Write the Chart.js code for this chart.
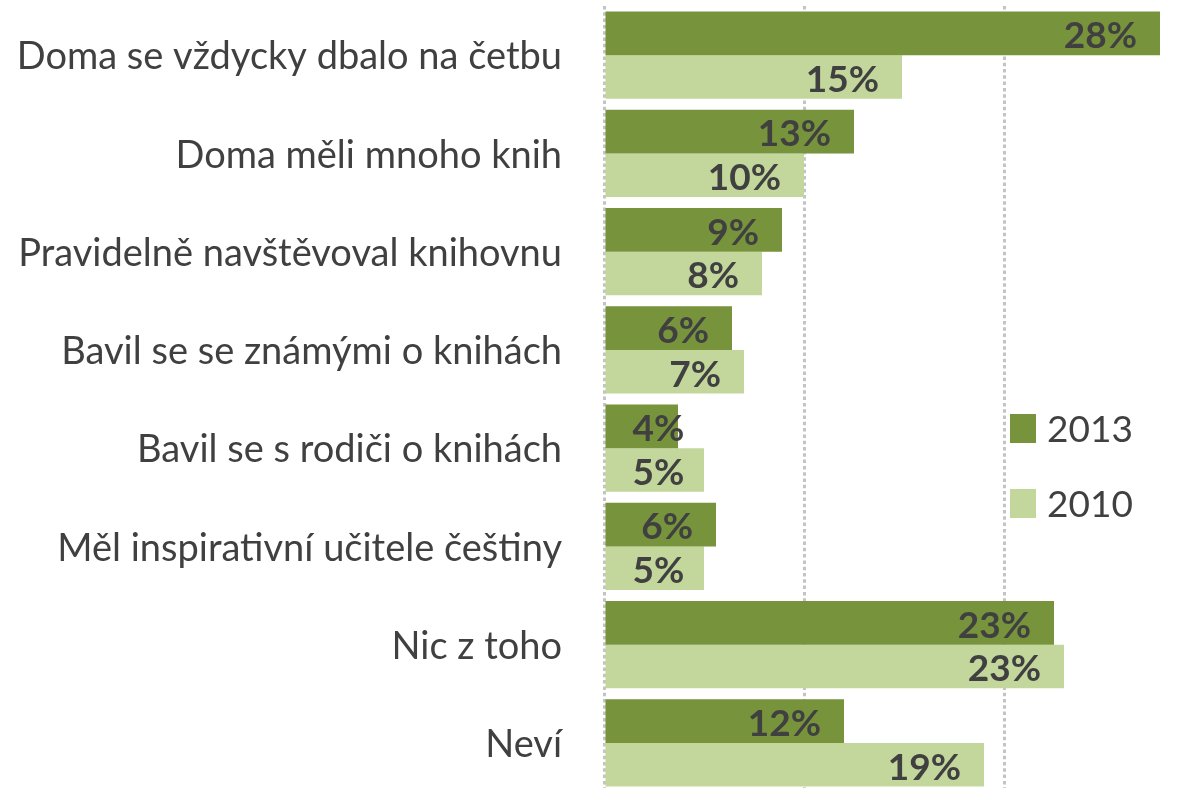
<!DOCTYPE html>
<html>
<head>
<meta charset="utf-8">
<script src="https://cdn.jsdelivr.net/npm/chart.js@4.4.1/dist/chart.umd.min.js"></script>
<style>
  html, body { margin: 0; padding: 0; background: #ffffff; overflow: hidden; width: 1192px; height: 788px; }
  #wrap { position: absolute; left: 0; top: 0; width: 1192px; height: 798px; }
</style>
</head>
<body>
<div id="wrap"><canvas id="c" width="1192" height="798"></canvas></div>
<script>
const categories = [
  "Doma se vždycky dbalo na četbu",
  "Doma měli mnoho knih",
  "Pravidelně navštěvoval knihovnu",
  "Bavil se se známými o knihách",
  "Bavil se s rodiči o knihách",
  "Měl inspirativní učitele češtiny",
  "Nic z toho",
  "Neví"
];
const seriesNames = ["2013", "2010"];
const values2013 = [27.8, 12.5, 8.9, 6.4, 3.7, 5.6, 22.5, 12.0];
const values2010 = [14.9, 10.0, 7.9, 7.0, 5.0, 5.0, 23.0, 19.0];
const gridTicks = [0, 10, 20];

const COL_2013 = "#77933C";
const COL_2010 = "#C3D69B";
const TEXT = "#404040";
const FONT = "Lato, 'Open Sans', sans-serif";

const labelPlugin = {
  id: "barLabels",
  afterDatasetsDraw(chart) {
    const ctx = chart.ctx;
    ctx.save();
    ctx.font = "bold 37px " + FONT;
    ctx.fillStyle = TEXT;
    ctx.textAlign = "right";
    ctx.textBaseline = "middle";
    chart.data.datasets.forEach((ds, i) => {
      const meta = chart.getDatasetMeta(i);
      meta.data.forEach((bar, j) => {
        const txt = Math.round(ds.data[j]) + "%";
        const w = ctx.measureText(txt).width;
        const right = Math.max(bar.x - 23, bar.base + 27 + w);
        ctx.fillText(txt, right, bar.y + 3);
      });
    });
    ctx.restore();
  }
};

const legendPlugin = {
  id: "innerLegend",
  afterDraw(chart) {
    const ctx = chart.ctx;
    ctx.save();
    const items = [
      { label: seriesNames[0], color: COL_2013, y: 414 },
      { label: seriesNames[1], color: COL_2010, y: 489 }
    ];
    ctx.font = "37px " + FONT;
    ctx.textAlign = "left";
    ctx.textBaseline = "middle";
    items.forEach(it => {
      ctx.fillStyle = it.color;
      ctx.fillRect(1010, it.y, 26, 29);
      ctx.fillStyle = TEXT;
      ctx.fillText(it.label, 1047, it.y + 16);
    });
    ctx.restore();
  }
};

new Chart(document.getElementById("c"), {
  type: "bar",
  data: {
    labels: categories,
    datasets: [
      { label: seriesNames[0], data: values2013, backgroundColor: COL_2013, borderWidth: 0, barPercentage: 1.0, categoryPercentage: 0.89 },
      { label: seriesNames[1], data: values2010, backgroundColor: COL_2010, borderWidth: 0, barPercentage: 1.0, categoryPercentage: 0.89 }
    ]
  },
  options: {
    indexAxis: "y",
    responsive: false,
    animation: false,
    devicePixelRatio: 1,
    layout: { padding: { top: 6, bottom: 6, left: 0, right: 0 } },
    plugins: {
      legend: { display: false },
      tooltip: { enabled: false }
    },
    scales: {
      x: {
        min: 0,
        max: 29.4,
        afterBuildTicks(scale) { scale.ticks = gridTicks.map(v => ({ value: v })); },
        afterFit(scale) { scale.height = 0; scale.paddingLeft = 0; scale.paddingRight = 0; },
        ticks: { display: false },
        grid: { color: "#C4C4C4", lineWidth: 3, drawTicks: false },
        border: { display: false, dash: [3.5, 2.8] }
      },
      y: {
        afterFit(scale) { scale.width = 604; scale.paddingTop = 0; scale.paddingBottom = 0; },
        grid: { display: false, drawTicks: false },
        border: { display: false },
        ticks: {
          color: TEXT,
          padding: 42,
          labelOffset: 2,
          font: { family: FONT, size: 38 }
        }
      }
    }
  },
  plugins: [labelPlugin, legendPlugin]
});
</script>
</body>
</html>
